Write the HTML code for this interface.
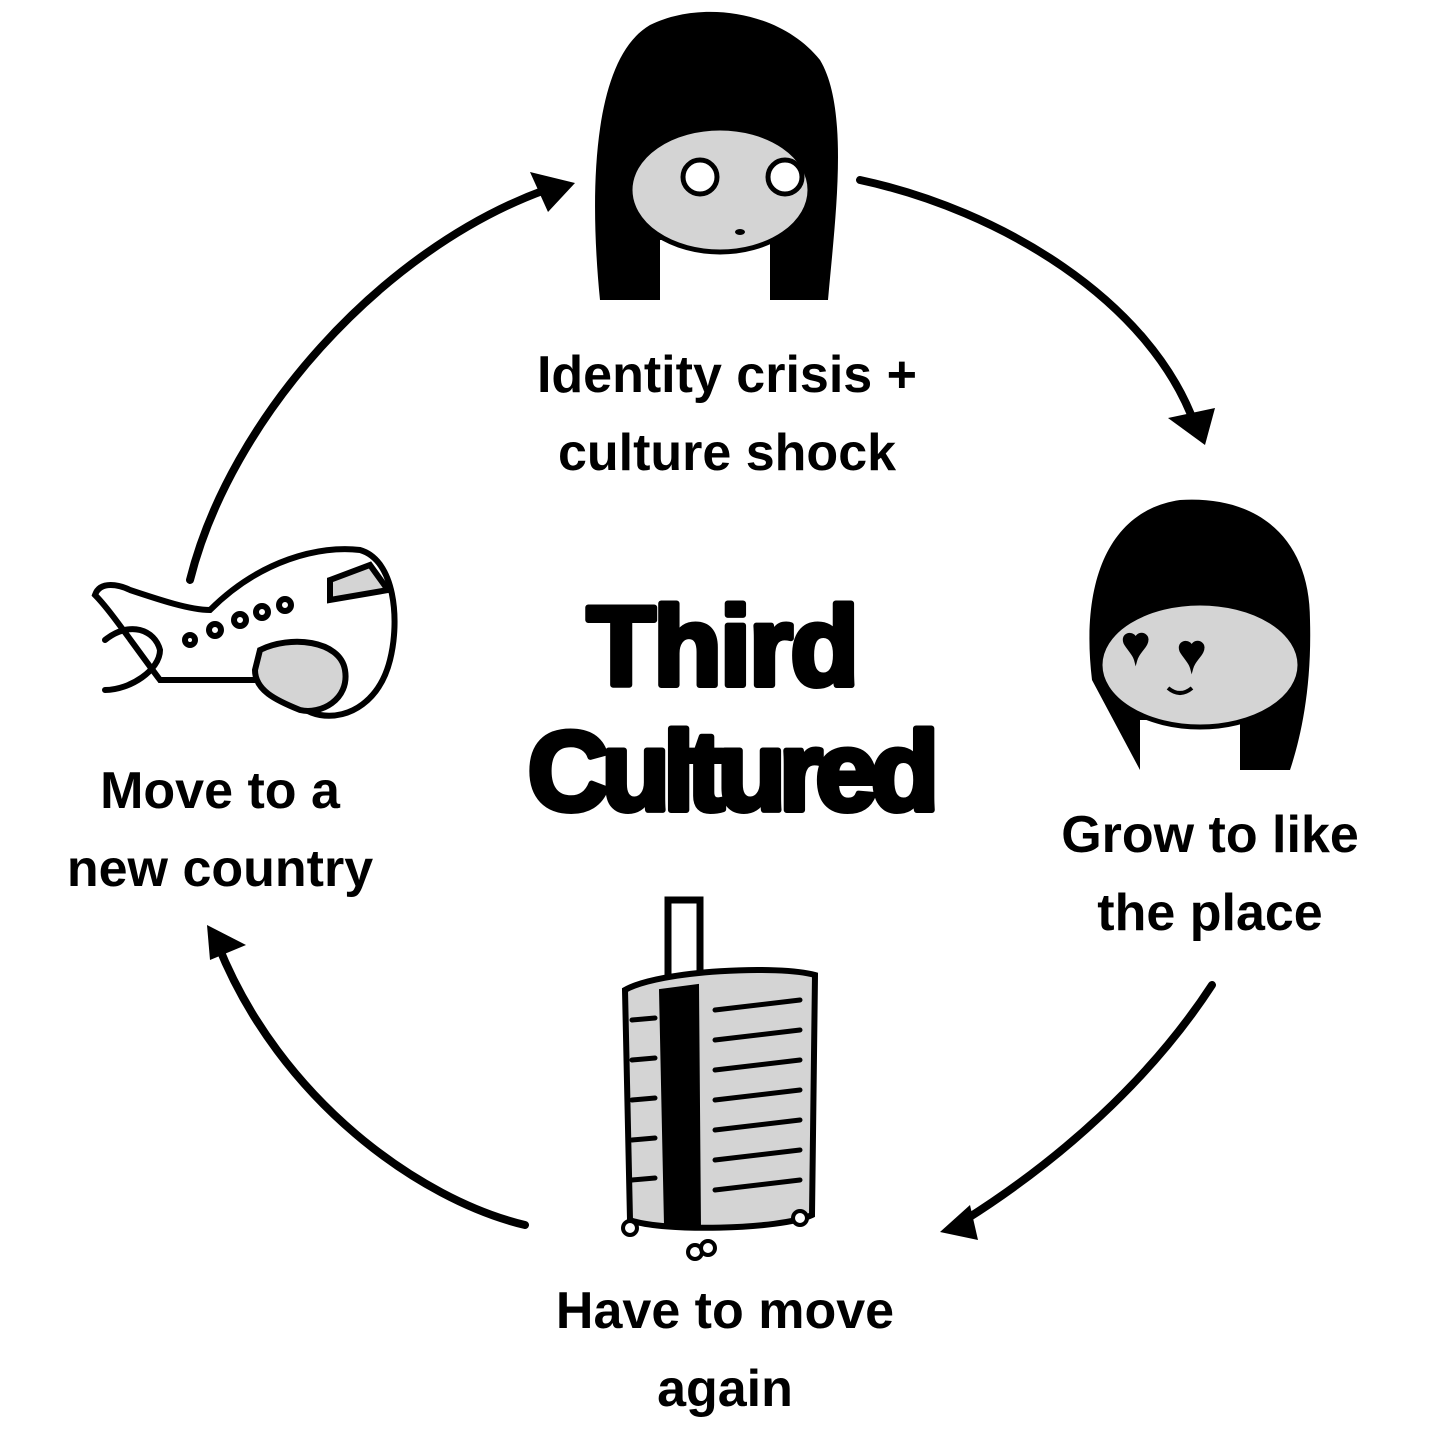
<!DOCTYPE html>
<html><head><meta charset="utf-8"><style>
html,body{margin:0;padding:0;background:#fff;}
svg{display:block}
text{font-family:"Liberation Sans","DejaVu Sans",sans-serif;fill:#000;}
</style></head><body>
<svg width="1445" height="1445" viewBox="0 0 1445 1445" xmlns="http://www.w3.org/2000/svg">
<g fill="none" stroke="#000" stroke-width="8" stroke-linecap="round">
<path d="M190 580 C230 420 380 250 545 190"/>
<path d="M860 180 C1000 210 1150 300 1195 425"/>
<path d="M1212 985 C1150 1080 1060 1160 965 1220"/>
<path d="M525 1225 C420 1200 280 1100 218 945"/>
</g>
<g fill="#000">
<polygon points="575,183 530,172 548,212"/>
<polygon points="1205,445 1168,418 1215,408"/>
<polygon points="940,1232 970,1205 978,1240"/>
<polygon points="207,925 246,945 210,960"/>
</g>
<!-- top face -->
<g>
<path d="M600 300 C590 200 590 60 650 25 C700 0 780 10 820 60 C850 110 835 220 828 300 L770 300 L770 240 L660 240 L660 300 Z" fill="#000"/>
<ellipse cx="720" cy="190" rx="90" ry="62" fill="#d4d4d4" stroke="#000" stroke-width="5"/>
<path d="M635 160 C660 110 700 100 740 95 C760 125 790 145 822 160 L812 95 C770 55 680 55 640 105 Z" fill="#000"/>
<circle cx="700" cy="177" r="17" fill="#fff" stroke="#000" stroke-width="5"/>
<circle cx="785" cy="177" r="17" fill="#fff" stroke="#000" stroke-width="5"/>
<ellipse cx="740" cy="232" rx="5" ry="3" fill="#000"/>
</g>
<!-- right face -->
<g>
<path d="M1092 680 C1080 580 1110 510 1180 500 C1260 495 1310 540 1310 620 C1312 690 1300 740 1290 770 L1240 770 L1240 720 L1140 720 L1140 770 Z" fill="#000"/>
<ellipse cx="1200" cy="665" rx="100" ry="62" fill="#d4d4d4" stroke="#000" stroke-width="5"/>
<path d="M1095 650 C1120 600 1170 590 1210 590 C1230 605 1260 620 1302 632 L1295 570 C1240 520 1130 540 1100 600 Z" fill="#000"/>
<text x="1122" y="660" font-size="46" fill="#fff" stroke="#000" stroke-width="3">♥</text>
<text x="1178" y="668" font-size="46" fill="#fff" stroke="#000" stroke-width="3">♥</text>
<path d="M1168 688 Q1180 698 1192 688" fill="none" stroke="#000" stroke-width="4"/>
</g>
<!-- plane -->
<g fill="none" stroke="#000" stroke-width="6" stroke-linecap="round">
<path d="M160 680 C130 640 110 610 95 595 C100 580 120 585 130 590 C160 600 190 610 210 610 C260 560 320 545 360 550 C395 560 400 620 390 660 C380 700 350 720 320 715 C300 712 280 690 260 680 L180 680 Z" fill="#fff"/>
<path d="M260 650 C290 635 340 640 345 670 C350 700 320 715 300 710 C275 700 255 690 255 670 Z" fill="#d4d4d4"/>
<path d="M330 580 L370 565 L388 590 L330 600 Z" fill="#d4d4d4"/>
<path d="M105 640 C130 620 155 630 160 650 C160 670 130 690 105 690"/>
<circle cx="285" cy="605" r="6"/><circle cx="262" cy="612" r="6"/><circle cx="240" cy="620" r="6"/><circle cx="215" cy="630" r="6"/><circle cx="190" cy="640" r="5"/>
</g>
<!-- suitcase -->
<g stroke="#000" stroke-linecap="round">
<path d="M668 975 L668 900 L700 900 L700 975" fill="none" stroke-width="7"/>
<path d="M625 990 C660 970 780 965 815 975 L812 1215 C780 1230 660 1232 630 1220 Z" fill="#d4d4d4" stroke-width="6"/>
<path d="M660 990 L665 1225 L700 1228 L698 985 Z" fill="#000" stroke-width="2"/>
<g stroke-width="5">
<line x1="715" y1="1010" x2="800" y2="1000"/><line x1="715" y1="1040" x2="800" y2="1030"/><line x1="715" y1="1070" x2="800" y2="1060"/><line x1="715" y1="1100" x2="800" y2="1090"/><line x1="715" y1="1130" x2="800" y2="1120"/><line x1="715" y1="1160" x2="800" y2="1150"/><line x1="715" y1="1190" x2="800" y2="1180"/>
<line x1="632" y1="1020" x2="655" y2="1018"/><line x1="632" y1="1060" x2="655" y2="1058"/><line x1="632" y1="1100" x2="655" y2="1098"/><line x1="632" y1="1140" x2="655" y2="1138"/><line x1="632" y1="1180" x2="655" y2="1178"/>
</g>
<circle cx="630" cy="1228" r="7" fill="#fff" stroke-width="4"/><circle cx="695" cy="1252" r="7" fill="#fff" stroke-width="4"/><circle cx="708" cy="1248" r="7" fill="#fff" stroke-width="4"/><circle cx="800" cy="1218" r="7" fill="#fff" stroke-width="4"/>
</g>
<!-- title -->
<g stroke="#000" stroke-width="6" stroke-linejoin="round">
<text x="722" y="685" font-size="112" font-weight="bold" text-anchor="middle" style="letter-spacing:-2px">Third</text>
<text x="730" y="810" font-size="112" font-weight="bold" text-anchor="middle" style="letter-spacing:-7px">Cultured</text>
</g>
<!-- labels -->
<g font-size="52" font-weight="bold" text-anchor="middle">
<text x="727" y="392">Identity crisis +</text>
<text x="727" y="470">culture shock</text>
<text x="1210" y="852">Grow to like</text>
<text x="1210" y="930">the place</text>
<text x="220" y="808">Move to a</text>
<text x="220" y="886">new country</text>
<text x="725" y="1328">Have to move</text>
<text x="725" y="1406">again</text>
</g>
</svg>
</body></html>
